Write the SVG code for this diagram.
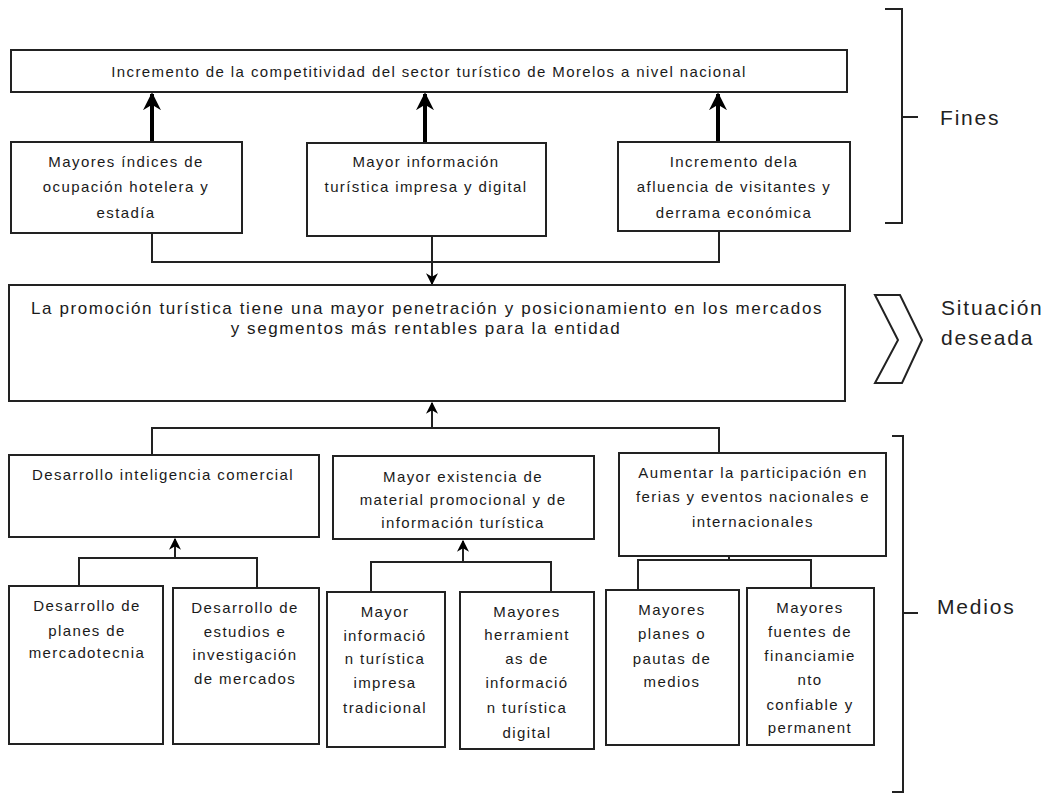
<svg xmlns="http://www.w3.org/2000/svg" width="1052" height="796" viewBox="0 0 1052 796">
<defs>
<style>
.box{fill:#fff;stroke:#222;stroke-width:2}
.t{font-family:"Liberation Sans",Arial,sans-serif;font-size:15px;letter-spacing:1.4px;fill:#1a1a1a;text-anchor:middle}
.big{font-family:"Liberation Sans",Arial,sans-serif;font-size:17px;letter-spacing:1.6px;fill:#1a1a1a;text-anchor:middle}
.lab{font-family:"Liberation Sans",Arial,sans-serif;font-size:21px;letter-spacing:1.8px;fill:#222}
.ln{fill:none;stroke:#222;stroke-width:2}
.thick{fill:none;stroke:#000;stroke-width:4}
</style>
<marker id="ah" viewBox="0 0 10 10" refX="9" refY="5" markerWidth="12" markerHeight="12" markerUnits="userSpaceOnUse" orient="auto">
<path d="M0,0 L10,5 L0,10 L3,5 Z" fill="#000"/>
</marker>
<marker id="ahb" viewBox="0 0 10 10" refX="9" refY="5" markerWidth="18" markerHeight="18" markerUnits="userSpaceOnUse" orient="auto">
<path d="M0,0 L10,5 L0,10 L3,5 Z" fill="#000"/>
</marker>
</defs>
<rect width="1052" height="796" fill="#fff"/>

<g id="connectors">
<line class="thick" x1="152" y1="142" x2="152" y2="94" marker-end="url(#ahb)"/>
<line class="thick" x1="425" y1="143" x2="425" y2="94" marker-end="url(#ahb)"/>
<line class="thick" x1="718" y1="142" x2="718" y2="94" marker-end="url(#ahb)"/>
<path class="ln" d="M152,233 V262 H719 V231"/>
<line class="ln" x1="432" y1="236" x2="432" y2="284" marker-end="url(#ah)"/>
<line class="ln" x1="432" y1="428" x2="432" y2="403" marker-end="url(#ah)"/>
<path class="ln" d="M152,455 V428 H719 V453"/>
<path class="ln" d="M79,587 V558 H257 V588"/>
<line class="ln" x1="175" y1="558" x2="175" y2="539" marker-end="url(#ah)"/>
<path class="ln" d="M371,592 V562 H551 V592"/>
<line class="ln" x1="463" y1="562" x2="463" y2="541" marker-end="url(#ah)"/>
<path class="ln" d="M638,590 V560 H811 V588"/>
<line class="ln" x1="729" y1="560" x2="729" y2="541" marker-end="url(#ah)"/>
</g>

<g id="fin-top">
<rect class="box" x="11" y="50" width="836" height="42"/>
<text class="t" x="429" y="77">Incremento de la competitividad del sector turístico de Morelos a nivel nacional</text>
</g>
<g id="fin-1">
<rect class="box" x="11" y="142" width="231" height="91"/>
<text class="t" x="126" y="167">Mayores índices de</text>
<text class="t" x="126" y="192">ocupación hotelera y</text>
<text class="t" x="126" y="218">estadía</text>
</g>
<g id="fin-2">
<rect class="box" x="307" y="143" width="239" height="93"/>
<text class="t" x="426" y="167">Mayor información</text>
<text class="t" x="426" y="192">turística impresa y digital</text>
</g>
<g id="fin-3">
<rect class="box" x="618" y="142" width="232" height="89"/>
<text class="t" x="734" y="167">Incremento dela</text>
<text class="t" x="734" y="192">afluencia de visitantes y</text>
<text class="t" x="734" y="218">derrama económica</text>
</g>

<g id="situacion">
<rect class="box" x="9" y="285" width="836" height="116"/>
<text class="big" x="427" y="314">La promoción turística tiene una mayor penetración y posicionamiento en los mercados</text>
<text class="big" x="426" y="334">y segmentos más rentables para la entidad</text>
</g>

<g id="medio-1">
<rect class="box" x="9" y="455" width="310" height="82"/>
<text class="t" x="163" y="480">Desarrollo inteligencia comercial</text>
</g>
<g id="medio-2">
<rect class="box" x="333" y="456" width="261" height="83"/>
<text class="t" x="463" y="482">Mayor existencia de</text>
<text class="t" x="463" y="505">material promocional y de</text>
<text class="t" x="463" y="528">información turística</text>
</g>
<g id="medio-3">
<rect class="box" x="619" y="453" width="267" height="103"/>
<text class="t" x="753" y="478">Aumentar la participación en</text>
<text class="t" x="753" y="502">ferias y eventos nacionales e</text>
<text class="t" x="753" y="527">internacionales</text>
</g>

<g id="sub-1a">
<rect class="box" x="9" y="586" width="154" height="158"/>
<text class="t" x="87" y="611">Desarrollo de</text>
<text class="t" x="87" y="636">planes de</text>
<text class="t" x="87" y="658">mercadotecnia</text>
</g>
<g id="sub-1b">
<rect class="box" x="173" y="588" width="146" height="156"/>
<text class="t" x="245" y="613">Desarrollo de</text>
<text class="t" x="245" y="637">estudios e</text>
<text class="t" x="245" y="660">investigación</text>
<text class="t" x="245" y="684">de mercados</text>
</g>
<g id="sub-2a">
<rect class="box" x="327" y="592" width="118" height="155"/>
<text class="t" x="385" y="617">Mayor</text>
<text class="t" x="385" y="641">informació</text>
<text class="t" x="385" y="664">n turística</text>
<text class="t" x="385" y="688">impresa</text>
<text class="t" x="385" y="713">tradicional</text>
</g>
<g id="sub-2b">
<rect class="box" x="460" y="592" width="134" height="157"/>
<text class="t" x="527" y="617">Mayores</text>
<text class="t" x="527" y="640">herramient</text>
<text class="t" x="527" y="664">as de</text>
<text class="t" x="527" y="688">informació</text>
<text class="t" x="527" y="713">n turística</text>
<text class="t" x="527" y="738">digital</text>
</g>
<g id="sub-3a">
<rect class="box" x="606" y="590" width="133" height="155"/>
<text class="t" x="672" y="615">Mayores</text>
<text class="t" x="672" y="639">planes o</text>
<text class="t" x="672" y="664">pautas de</text>
<text class="t" x="672" y="687">medios</text>
</g>
<g id="sub-3b">
<rect class="box" x="747" y="588" width="127" height="157"/>
<text class="t" x="810" y="613">Mayores</text>
<text class="t" x="810" y="637">fuentes de</text>
<text class="t" x="810" y="661">financiamie</text>
<text class="t" x="810" y="685">nto</text>
<text class="t" x="810" y="710">confiable y</text>
<text class="t" x="810" y="733">permanent</text>
</g>

<g id="brackets">
<path class="ln" d="M885,9 H902 V223 H885 M902,117 H918"/>
<text class="lab" x="940" y="125">Fines</text>
<polygon class="box" points="875,295 900,295 922,340 902,383 875,383 898,340"/>
<text class="lab" x="941" y="315">Situación</text>
<text class="lab" x="941" y="345">deseada</text>
<path class="ln" d="M892,436 H903 V792 H892 M903,613 H918"/>
<text class="lab" x="937" y="614">Medios</text>
</g>
</svg>
